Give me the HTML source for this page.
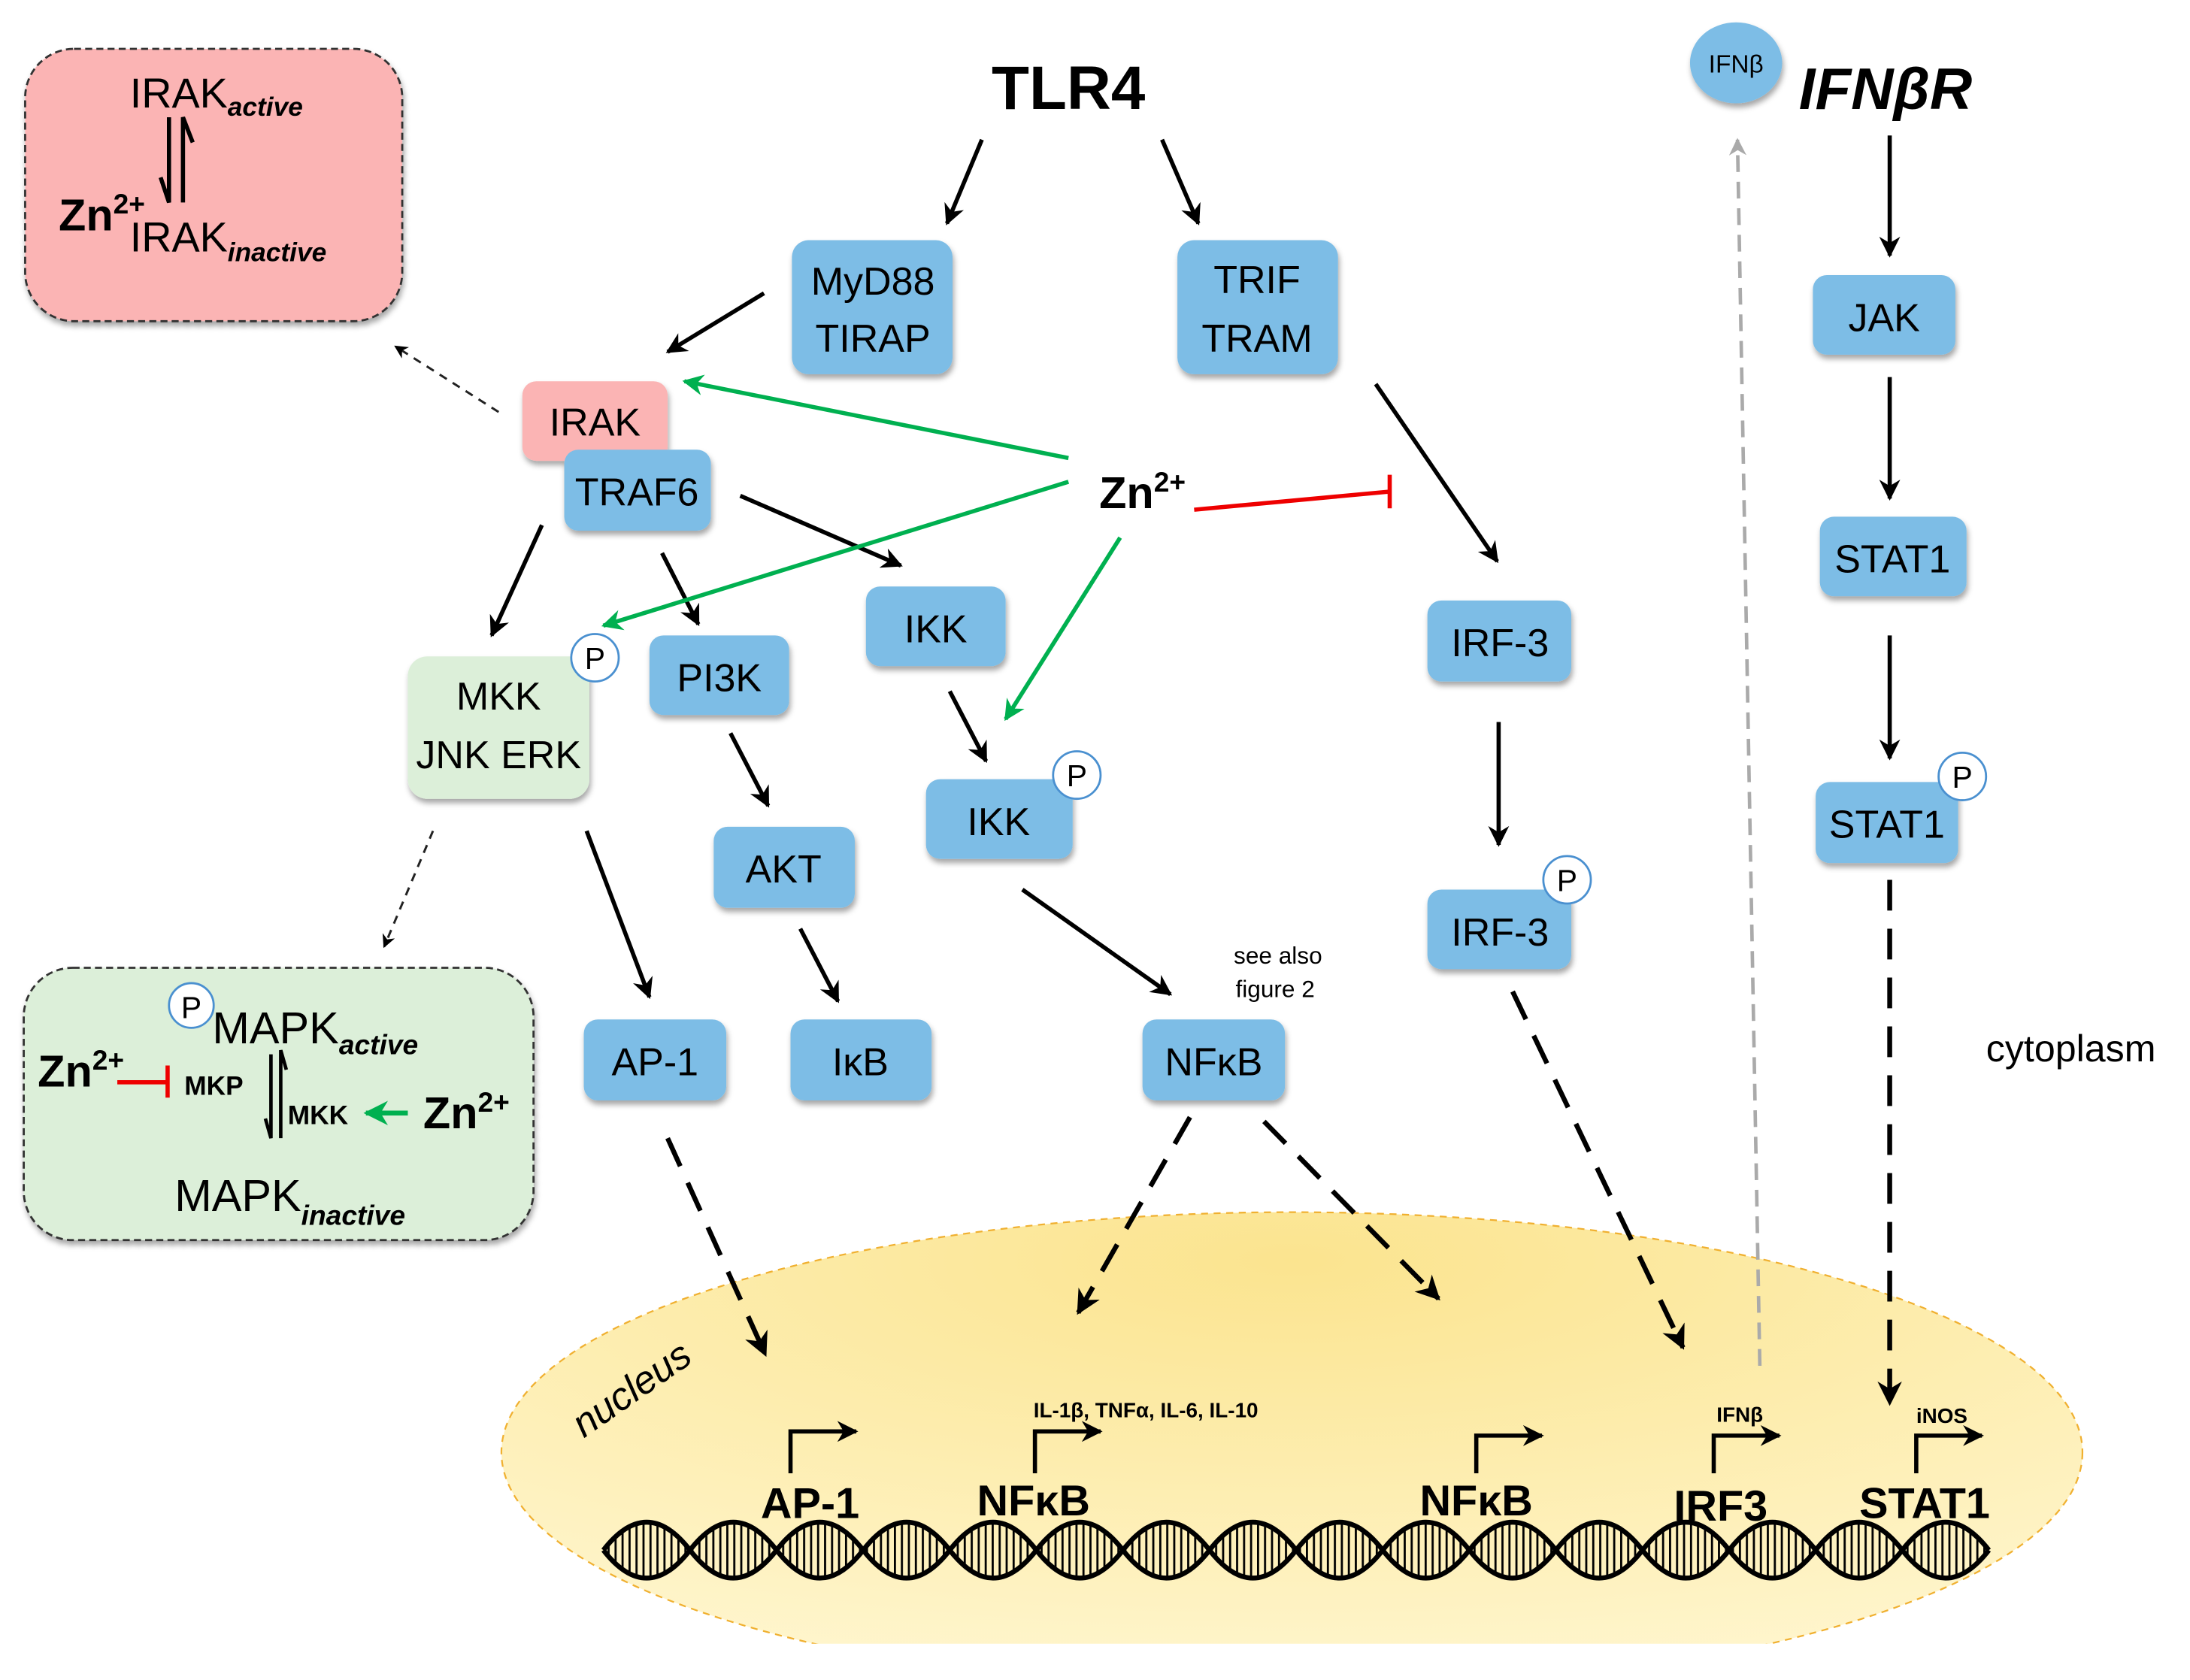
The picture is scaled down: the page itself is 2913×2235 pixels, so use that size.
<!DOCTYPE html>
<html><head><meta charset="utf-8"><style>
html,body{margin:0;padding:0;background:#fff;}
svg{display:block;}
text{font-family:"Liberation Sans Narrow","Liberation Sans",sans-serif;}
</style></head><body>
<svg width="2913" height="2235" viewBox="0 0 1568 1203" preserveAspectRatio="none" xmlns="http://www.w3.org/2000/svg">
<defs>
<filter id="sh" x="-20%" y="-20%" width="140%" height="150%"><feDropShadow dx="1" dy="3" stdDeviation="2" flood-color="#000" flood-opacity="0.35"/></filter>
<radialGradient id="nuc" cx="0.5" cy="0.1" r="0.9"><stop offset="0" stop-color="#fbe48f"/><stop offset="1" stop-color="#fff6cf"/></radialGradient>
<marker id="ab" viewBox="0 0 10 10" refX="9" refY="5" markerWidth="5" markerHeight="5" orient="auto"><path d="M0,0 L10,5 L0,10 L3,5Z" fill="#000"/></marker>
<marker id="ag" viewBox="0 0 10 10" refX="9" refY="5" markerWidth="5" markerHeight="5" orient="auto"><path d="M0,0 L10,5 L0,10 L3,5Z" fill="#00b050"/></marker>
<marker id="ay" viewBox="0 0 10 10" refX="9" refY="5" markerWidth="5" markerHeight="5" orient="auto"><path d="M0,0 L10,5 L0,10 L3,5Z" fill="#aaa"/></marker>
<marker id="at" viewBox="0 0 10 10" refX="9" refY="5" markerWidth="6" markerHeight="6" orient="auto"><path d="M0,0 L10,5 L0,10 L3,5Z" fill="#000"/></marker>
<clipPath id="cl"><rect x="0" y="0" width="1568" height="1177"/></clipPath>
<clipPath id="lens"><path d="M432,1110 q31,-40 62,0 q-31,40 -62,0 m62,0 q31,-40 62,0 q-31,40 -62,0 m62,0 q31,-40 62,0 q-31,40 -62,0 m62,0 q31,-40 62,0 q-31,40 -62,0 m62,0 q31,-40 62,0 q-31,40 -62,0 m62,0 q31,-40 62,0 q-31,40 -62,0 m62,0 q31,-40 62,0 q-31,40 -62,0 m62,0 q31,-40 62,0 q-31,40 -62,0 m62,0 q31,-40 62,0 q-31,40 -62,0 m62,0 q31,-40 62,0 q-31,40 -62,0 m62,0 q31,-40 62,0 q-31,40 -62,0 m62,0 q31,-40 62,0 q-31,40 -62,0 m62,0 q31,-40 62,0 q-31,40 -62,0 m62,0 q31,-40 62,0 q-31,40 -62,0 m62,0 q31,-40 62,0 q-31,40 -62,0 m62,0 q31,-40 62,0 q-31,40 -62,0"/></clipPath>
<pattern id="str" width="5" height="10" patternUnits="userSpaceOnUse"><rect x="0" y="0" width="1.5" height="10" fill="#000"/></pattern>
</defs>

<!-- nucleus -->
<g clip-path="url(#cl)">
<ellipse cx="925" cy="1040" rx="566" ry="172" fill="url(#nuc)" stroke="#f0b030" stroke-width="1.2" stroke-dasharray="5 4"/>
</g>
<text x="0" y="0" font-size="28" font-style="italic" transform="translate(418,1030) rotate(-35)">nucleus</text>

<!-- DNA -->
<rect x="432" y="1088" width="993" height="44" fill="url(#str)" clip-path="url(#lens)"/>
<path d="M432,1110 q31,-40 62,0 t62,0 t62,0 t62,0 t62,0 t62,0 t62,0 t62,0 t62,0 t62,0 t62,0 t62,0 t62,0 t62,0 t62,0 t62,0" fill="none" stroke="#000" stroke-width="3.5"/>
<path d="M432,1110 q31,40 62,0 t62,0 t62,0 t62,0 t62,0 t62,0 t62,0 t62,0 t62,0 t62,0 t62,0 t62,0 t62,0 t62,0 t62,0 t62,0" fill="none" stroke="#000" stroke-width="3.5"/>

<!-- promoters -->
<g fill="none" stroke="#000" stroke-width="3">
<path d="M566,1055 V1025 H613" marker-end="url(#ab)"/>
<path d="M741,1055 V1025 H788" marker-end="url(#ab)"/>
<path d="M1057,1055 V1028 H1104" marker-end="url(#ab)"/>
<path d="M1227,1055 V1028 H1274" marker-end="url(#ab)"/>
<path d="M1372,1055 V1028 H1419" marker-end="url(#ab)"/>
</g>
<g font-size="31" font-weight="bold" text-anchor="middle">
<text x="580" y="1087">AP-1</text>
<text x="740" y="1085">NFκB</text>
<text x="1057" y="1085">NFκB</text>
<text x="1232" y="1089">IRF3</text>
<text x="1378" y="1087">STAT1</text>
</g>
<g font-size="15" font-weight="bold">
<text x="740" y="1015">IL-1β, TNFα, IL-6, IL-10</text>
<text x="1229" y="1018">IFNβ</text>
<text x="1372" y="1019">iNOS</text>
</g>

<!-- side boxes -->
<rect x="18" y="35" width="270" height="195" rx="35" fill="#fbb4b4" stroke="#333" stroke-width="1.5" stroke-dasharray="5 3" filter="url(#sh)"/>
<rect x="17" y="693" width="365" height="195" rx="35" fill="#dcefd9" stroke="#333" stroke-width="1.5" stroke-dasharray="5 3" filter="url(#sh)"/>

<!-- pink box content -->
<text x="93" y="77" font-size="30">IRAK<tspan font-size="19" font-weight="bold" font-style="italic" dy="6">active</tspan></text>
<text x="93" y="180" font-size="30">IRAK<tspan font-size="19" font-weight="bold" font-style="italic" dy="7">inactive</tspan></text>
<text x="42" y="165" font-size="32" font-weight="bold">Zn<tspan font-size="20" dy="-12">2+</tspan></text>
<path d="M121,84 V145 l-6,-18" stroke="#000" stroke-width="3" fill="none"/>
<path d="M131,145 V84 l7,18" stroke="#000" stroke-width="3" fill="none"/>

<!-- green box content -->
<circle cx="137" cy="720" r="16" fill="#fff" stroke="#4a90d0" stroke-width="1.5"/>
<text x="137" y="729" font-size="22" text-anchor="middle">P</text>
<text x="152" y="747" font-size="32">MAPK<tspan font-size="20" font-weight="bold" font-style="italic" dy="8">active</tspan></text>
<text x="125" y="867" font-size="32">MAPK<tspan font-size="20" font-style="italic" font-weight="bold" dy="10">inactive</tspan></text>
<text x="27" y="778" font-size="32" font-weight="bold">Zn<tspan font-size="20" dy="-12">2+</tspan></text>
<text x="303" y="808" font-size="32" font-weight="bold">Zn<tspan font-size="20" dy="-12">2+</tspan></text>
<text x="132" y="784" font-size="19" font-weight="bold">MKP</text>
<text x="206" y="805" font-size="19" font-weight="bold">MKK</text>
<path d="M84,775 H120 M120,763 V786" stroke="#e00" stroke-width="3" fill="none"/>
<path d="M292,797 H262" stroke="#00b050" stroke-width="3.5" marker-end="url(#ag)"/>
<path d="M194,755 V815 l-4,-14" stroke="#000" stroke-width="2.5" fill="none"/>
<path d="M201,815 V752 l4,14" stroke="#000" stroke-width="2.5" fill="none"/>

<!-- blue nodes -->
<g fill="#7dbde6" filter="url(#sh)">
<rect x="567" y="172" width="115" height="96" rx="12"/>
<rect x="843" y="172" width="115" height="96" rx="12"/>
<rect x="374" y="273" width="104" height="57" rx="10" fill="#fbb4b4"/>
<rect x="404" y="322" width="105" height="58" rx="10"/>
<rect x="620" y="420" width="100" height="57" rx="10"/>
<rect x="465" y="455" width="100" height="57" rx="10"/>
<rect x="292" y="470" width="130" height="102" rx="14" fill="#dcefd9"/>
<rect x="663" y="558" width="105" height="57" rx="10"/>
<rect x="511" y="592" width="101" height="58" rx="10"/>
<rect x="418" y="730" width="102" height="58" rx="10"/>
<rect x="566" y="730" width="101" height="58" rx="10"/>
<rect x="818" y="730" width="102" height="58" rx="10"/>
<rect x="1022" y="430" width="103" height="58" rx="10"/>
<rect x="1022" y="637" width="103" height="57" rx="10"/>
<rect x="1298" y="197" width="102" height="57" rx="10"/>
<rect x="1303" y="370" width="105" height="57" rx="10"/>
<rect x="1300" y="560" width="102" height="58" rx="10"/>
<ellipse cx="1243" cy="45" rx="33" ry="29"/>
</g>
<g font-size="28" text-anchor="middle">
<text x="625" y="211">MyD88</text><text x="625" y="252">TIRAP</text>
<text x="900" y="210">TRIF</text><text x="900" y="252">TRAM</text>
<text x="426" y="312">IRAK</text>
<text x="456" y="362">TRAF6</text>
<text x="670" y="460">IKK</text>
<text x="515" y="495">PI3K</text>
<text x="357" y="508">MKK</text><text x="357" y="550">JNK ERK</text>
<text x="715" y="598">IKK</text>
<text x="561" y="632">AKT</text>
<text x="469" y="770">AP-1</text>
<text x="616" y="770">IκB</text>
<text x="869" y="770">NFκB</text>
<text x="1074" y="470">IRF-3</text>
<text x="1074" y="677">IRF-3</text>
<text x="1349" y="237">JAK</text>
<text x="1355" y="410">STAT1</text>
<text x="1351" y="600">STAT1</text>
<text x="1243" y="52" font-size="18">IFNβ</text>
</g>
<!-- P circles -->
<g fill="#fff" stroke="#4a90d0" stroke-width="1.5">
<circle cx="426" cy="471" r="17"/><circle cx="771" cy="555" r="17"/><circle cx="1122" cy="630" r="17"/><circle cx="1405" cy="556" r="17"/>
</g>
<g font-size="22" text-anchor="middle">
<text x="426" y="479">P</text><text x="771" y="563">P</text><text x="1122" y="638">P</text><text x="1405" y="564">P</text>
</g>

<!-- titles -->
<text x="765" y="78" font-size="44" font-weight="bold" text-anchor="middle">TLR4</text>
<text x="1350" y="78" font-size="42" font-weight="bold" font-style="italic" text-anchor="middle">IFNβR</text>
<text x="787" y="364" font-size="32" font-weight="bold">Zn<tspan font-size="20" dy="-12">2+</tspan></text>
<text x="1422" y="760" font-size="27">cytoplasm</text>
<text x="915" y="690" font-size="17" text-anchor="middle">see also</text>
<text x="913" y="714" font-size="17" text-anchor="middle">figure 2</text>

<!-- solid black arrows -->
<g stroke="#000" stroke-width="3" fill="none" marker-end="url(#ab)">
<path d="M703,100 L678,160"/><path d="M832,100 L858,160"/>
<path d="M547,210 L478,252"/>
<path d="M985,275 L1072,402"/>
<path d="M388,376 L352,455"/><path d="M474,396 L500,447"/><path d="M530,355 L645,405"/>
<path d="M680,495 L706,545"/>
<path d="M523,525 L550,577"/><path d="M573,665 L600,717"/>
<path d="M420,595 L465,714"/>
<path d="M732,637 L838,712"/>
<path d="M1073,517 L1073,605"/>
<path d="M1353,97 L1353,183"/><path d="M1353,270 L1353,357"/><path d="M1353,455 L1353,543"/>
</g>
<!-- thin dashed -->
<g stroke="#222" stroke-width="1.6" fill="none" stroke-dasharray="6 5" marker-end="url(#at)">
<path d="M357,295 L283,248"/><path d="M310,595 L275,678"/>
</g>
<path d="M1260,978 L1244,100" stroke="#aaa" stroke-width="2.5" stroke-dasharray="12 7" fill="none" marker-end="url(#ay)"/>
<!-- thick dashed -->
<g stroke="#000" stroke-width="3.5" fill="none" stroke-dasharray="22 13" marker-end="url(#ab)">
<path d="M478,815 L548,970"/><path d="M852,800 L772,940"/><path d="M905,803 L1030,930"/>
<path d="M1083,710 L1205,965"/><path d="M1353,630 L1353,1005"/>
</g>
<!-- green -->
<g stroke="#00b050" stroke-width="3" fill="none" marker-end="url(#ag)">
<path d="M765,328 L490,273"/><path d="M765,345 L432,448"/><path d="M802,385 L720,515"/>
</g>
<path d="M855,365 L995,352 M995,340 V364" stroke="#e00" stroke-width="3" fill="none"/>
</svg>
</body></html>
